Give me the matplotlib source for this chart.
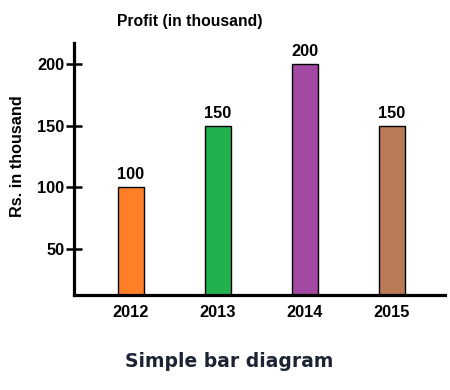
import matplotlib
matplotlib.use("Agg")
import matplotlib.pyplot as plt

years = ["2012", "2013", "2014", "2015"]
profit = [100, 150, 200, 150]
colors = ["#FF7F27", "#22B14C", "#A349A4", "#B97A57"]
yticks = [50, 100, 150, 200]

plt.rcParams['font.family'] = ['Liberation Sans', 'DejaVu Sans']

fig = plt.figure(figsize=(4.5, 3.9), dpi=100)
ax = fig.add_axes([0.1644, 0.2436, 0.8246, 0.6461])

x = list(range(len(years)))
bars = ax.bar(x, profit, width=0.29, color=colors, edgecolor="black", linewidth=1.0, zorder=2)
for xi, v in zip(x, profit):
    ax.text(xi, v + 4, str(v), ha="center", va="bottom", fontsize=11.8, fontweight="bold")

ax.set_xlim(-0.655, 3.61)
ax.set_ylim(12.7, 217)
ax.set_xticks(x)
ax.set_xticklabels(years, fontsize=11.8, fontweight="bold")
ax.set_yticks(yticks)
ax.set_yticklabels([str(t) for t in yticks], fontsize=11.8, fontweight="bold")
ax.tick_params(axis="x", length=0, pad=7)
ax.tick_params(axis="y", direction="inout", length=11, width=1.8, pad=1.5)

for s in ["top", "right"]:
    ax.spines[s].set_visible(False)
for s in ["left", "bottom"]:
    ax.spines[s].set_linewidth(2.3)

ax.set_ylabel("Rs. in thousand", fontsize=11.7, fontweight="bold")
ax.yaxis.set_label_coords(-0.132, 0.552)
fig.text(0.422, 0.944, "Profit (in thousand)", ha="center", va="center", fontsize=11.3, fontweight="bold")
fig.text(0.509, 0.072, "Simple bar diagram", ha="center", va="center", fontsize=13.5,
         fontweight="bold", color="#1c2333", family=["DejaVu Sans"])

fig.savefig("out.png", dpi=100)
